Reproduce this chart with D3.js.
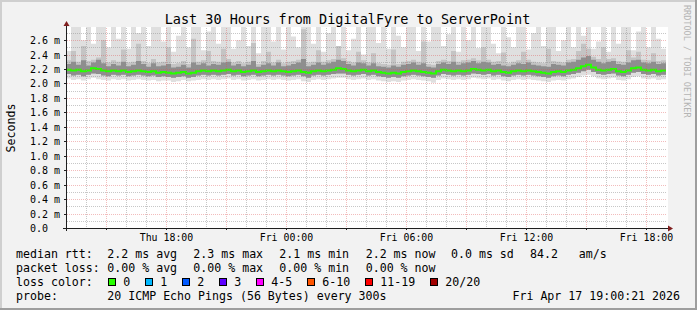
<!DOCTYPE html>
<html>
<head>
<meta charset="utf-8">
<script src="https://cdn.jsdelivr.net/npm/d3@7"></script>
<style>
body { margin: 0; background: #f2f2f2; }
svg { display: block; }
text { font-family: "DejaVu Sans Mono", monospace; fill: #000; white-space: pre; }
</style>
</head>
<body>
<svg id="chart" width="697" height="310"></svg>
<script>
// time span of the graph, one sample every 15 minutes
const startTime = new Date(2026, 3, 16, 13, 0);
const endTime = new Date(2026, 3, 17, 19, 0);
const stepMinutes = 15;

// median rtt (ms)
const median = [
  2.19, 2.18, 2.19, 2.17, 2.18, 2.21, 2.20, 2.18, 2.17, 2.18,
  2.17, 2.18, 2.16, 2.17, 2.18, 2.17, 2.16, 2.17, 2.15, 2.16,
  2.15, 2.14, 2.15, 2.16, 2.14, 2.15, 2.17, 2.18, 2.17, 2.18,
  2.17, 2.18, 2.19, 2.17, 2.18, 2.16, 2.17, 2.18, 2.16, 2.17,
  2.18, 2.17, 2.18, 2.17, 2.16, 2.17, 2.18, 2.16, 2.15, 2.17,
  2.18, 2.17, 2.18, 2.19, 2.21, 2.20, 2.18, 2.17, 2.18, 2.19,
  2.17, 2.18, 2.16, 2.15, 2.14, 2.15, 2.14, 2.16, 2.17, 2.18,
  2.17, 2.16, 2.15, 2.14, 2.17, 2.19, 2.18, 2.17, 2.18, 2.17,
  2.18, 2.20, 2.19, 2.18, 2.19, 2.17, 2.18, 2.16, 2.15, 2.17,
  2.18, 2.17, 2.18, 2.17, 2.16, 2.15, 2.14, 2.16, 2.17, 2.16,
  2.18, 2.19, 2.21, 2.24, 2.26, 2.22, 2.19, 2.18, 2.19, 2.20,
  2.17, 2.16, 2.18, 2.21, 2.22, 2.19, 2.18, 2.19, 2.17, 2.18
];

// smoke: fastest ping (ms)
const pingMin = [
  2.07, 2.05, 2.06, 2.04, 2.06, 2.08, 2.06, 2.05, 2.04, 2.06,
  2.05, 2.06, 2.04, 2.05, 2.06, 2.05, 2.04, 2.05, 2.03, 2.04,
  2.04, 2.02, 2.03, 2.05, 2.03, 2.04, 2.05, 2.06, 2.05, 2.06,
  2.05, 2.06, 2.07, 2.05, 2.06, 2.04, 2.05, 2.06, 2.04, 2.05,
  2.06, 2.05, 2.06, 2.05, 2.04, 2.05, 2.06, 2.03, 2.02, 2.05,
  2.06, 2.05, 2.06, 2.07, 2.08, 2.08, 2.06, 2.05, 2.06, 2.07,
  2.05, 2.06, 2.04, 2.03, 2.02, 2.03, 2.02, 2.04, 2.05, 2.06,
  2.05, 2.04, 2.03, 2.01, 2.05, 2.07, 2.06, 2.05, 2.06, 2.05,
  2.06, 2.08, 2.07, 2.06, 2.07, 2.05, 2.06, 2.04, 2.03, 2.05,
  2.06, 2.05, 2.06, 2.05, 2.04, 2.03, 2.02, 2.04, 2.05, 2.04,
  2.06, 2.07, 2.09, 2.11, 2.12, 2.10, 2.07, 2.06, 2.07, 2.08,
  2.05, 2.04, 2.06, 2.09, 2.10, 2.07, 2.06, 2.07, 2.05, 2.06
];

// smoke: lower edge of the dense core (ms)
const pingLow = [
  2.13, 2.11, 2.12, 2.10, 2.12, 2.14, 2.13, 2.11, 2.10, 2.12,
  2.11, 2.12, 2.10, 2.11, 2.12, 2.11, 2.10, 2.11, 2.09, 2.10,
  2.09, 2.08, 2.09, 2.10, 2.08, 2.09, 2.11, 2.12, 2.11, 2.12,
  2.11, 2.12, 2.13, 2.11, 2.12, 2.10, 2.11, 2.12, 2.10, 2.11,
  2.12, 2.11, 2.12, 2.11, 2.10, 2.11, 2.12, 2.10, 2.08, 2.11,
  2.12, 2.11, 2.12, 2.13, 2.14, 2.14, 2.12, 2.11, 2.12, 2.13,
  2.11, 2.12, 2.10, 2.09, 2.08, 2.09, 2.08, 2.10, 2.11, 2.12,
  2.11, 2.10, 2.09, 2.08, 2.11, 2.13, 2.12, 2.11, 2.12, 2.11,
  2.12, 2.14, 2.13, 2.12, 2.13, 2.11, 2.12, 2.10, 2.09, 2.11,
  2.12, 2.11, 2.12, 2.11, 2.10, 2.09, 2.08, 2.10, 2.11, 2.10,
  2.12, 2.13, 2.15, 2.17, 2.19, 2.16, 2.13, 2.12, 2.13, 2.14,
  2.11, 2.10, 2.12, 2.15, 2.16, 2.13, 2.12, 2.13, 2.11, 2.12
];

// smoke: upper edge of the dense core (ms)
const pingHigh = [
  2.27, 2.30, 2.26, 2.32, 2.25, 2.29, 2.33, 2.28, 2.24, 2.27,
  2.25, 2.30, 2.24, 2.26, 2.31, 2.27, 2.23, 2.28, 2.24, 2.25,
  2.27, 2.22, 2.23, 2.26, 2.22, 2.29, 2.26, 2.28, 2.25, 2.27,
  2.26, 2.29, 2.30, 2.25, 2.27, 2.24, 2.26, 2.31, 2.23, 2.26,
  2.28, 2.25, 2.29, 2.24, 2.25, 2.27, 2.29, 2.34, 2.24, 2.26,
  2.29, 2.26, 2.28, 2.30, 2.33, 2.31, 2.27, 2.25, 2.29, 2.28,
  2.25, 2.28, 2.24, 2.23, 2.22, 2.25, 2.23, 2.26, 2.27, 2.29,
  2.26, 2.28, 2.23, 2.22, 2.27, 2.29, 2.27, 2.30, 2.26, 2.28,
  2.29, 2.31, 2.28, 2.30, 2.29, 2.26, 2.27, 2.25, 2.24, 2.26,
  2.28, 2.27, 2.29, 2.26, 2.25, 2.24, 2.23, 2.27, 2.26, 2.25,
  2.29, 2.30, 2.33, 2.36, 2.38, 2.33, 2.30, 2.28, 2.30, 2.31,
  2.27, 2.26, 2.29, 2.32, 2.33, 2.29, 2.28, 2.30, 2.27, 2.28
];

// smoke: upper edge of the middle pings (ms)
const pingUpper = [
  2.32, 2.45, 2.30, 2.52, 2.31, 2.33, 2.36, 2.60, 2.29, 2.32,
  2.30, 2.47, 2.29, 2.30, 2.55, 2.31, 2.28, 2.34, 2.29, 2.30,
  2.50, 2.27, 2.28, 2.31, 2.27, 2.62, 2.30, 2.32, 2.45, 2.31,
  2.30, 2.48, 2.34, 2.29, 2.31, 2.28, 2.30, 2.56, 2.27, 2.31,
  2.44, 2.29, 2.33, 2.28, 2.30, 2.31, 2.33, 2.75, 2.29, 2.30,
  2.46, 2.30, 2.32, 2.34, 2.52, 2.35, 2.31, 2.29, 2.44, 2.32,
  2.29, 2.42, 2.28, 2.27, 2.26, 2.47, 2.27, 2.30, 2.31, 2.33,
  2.30, 2.58, 2.27, 2.26, 2.31, 2.33, 2.31, 2.45, 2.30, 2.32,
  2.33, 2.35, 2.32, 2.50, 2.33, 2.30, 2.31, 2.43, 2.28, 2.30,
  2.32, 2.44, 2.33, 2.30, 2.29, 2.28, 2.48, 2.31, 2.30, 2.29,
  2.33, 2.34, 2.45, 2.55, 2.48, 2.37, 2.34, 2.50, 2.34, 2.35,
  2.31, 2.30, 2.46, 2.36, 2.44, 2.33, 2.32, 2.42, 2.31, 2.32
];

// smoke: slowest ping (ms), tall ones run off the top of the graph
const pingMax = [
  2.45, 2.80, 2.80, 2.60, 2.80, 2.55, 2.80, 2.80, 2.50, 2.80,
  2.62, 2.80, 2.48, 2.80, 2.70, 2.80, 2.52, 2.80, 2.80, 2.58,
  2.80, 2.44, 2.66, 2.80, 2.50, 2.80, 2.80, 2.46, 2.72, 2.80,
  2.55, 2.80, 2.80, 2.48, 2.60, 2.80, 2.52, 2.80, 2.42, 2.80,
  2.80, 2.58, 2.80, 2.47, 2.80, 2.65, 2.50, 2.80, 2.80, 2.55,
  2.80, 2.44, 2.70, 2.80, 2.52, 2.80, 2.46, 2.62, 2.80, 2.40,
  2.80, 2.80, 2.56, 2.80, 2.48, 2.80, 2.66, 2.50, 2.80, 2.80,
  2.45, 2.80, 2.58, 2.80, 2.80, 2.52, 2.68, 2.80, 2.44, 2.80,
  2.60, 2.80, 2.49, 2.80, 2.80, 2.55, 2.42, 2.80, 2.64, 2.50,
  2.80, 2.80, 2.47, 2.70, 2.80, 2.52, 2.80, 2.80, 2.45, 2.60,
  2.80, 2.50, 2.80, 2.66, 2.80, 2.48, 2.58, 2.80, 2.44, 2.80,
  2.55, 2.80, 2.80, 2.46, 2.72, 2.80, 2.50, 2.80, 2.62, 2.48
];

const yTicks = [0, 0.2, 0.4, 0.6, 0.8, 1.0, 1.2, 1.4, 1.6, 1.8, 2.0, 2.2, 2.4, 2.6];

const rttStats = ["2.2 ms avg", "2.3 ms max", "2.1 ms min", "2.2 ms now", "0.0 ms sd", "84.2   am/s"];
const lossStats = ["0.00 % avg", "0.00 % max", "0.00 % min", "0.00 % now"];
const lossLabels = ["0", "1", "2", "3", "4-5", "6-10", "11-19", "20/20"];
const lossColors = ["#26ff00", "#00b8ff", "#0059ff", "#5e00ff", "#ff00ff", "#ff5500", "#ff0000", "#a10000"];
const probeText = "20 ICMP Echo Pings (56 Bytes) every 300s";
const stampText = "Fri Apr 17 19:00:21 2026";
const title = "Last 30 Hours from DigitalFyre to ServerPoint";

const W = 697, H = 310;
const plotL = 66, plotR = 666, plotT = 28, plotB = 228;

const svg = d3.select('#chart');

// background + 3d shade
svg.append('rect').attr('width', W).attr('height', H).attr('fill', '#f2f2f2');
svg.append('path').attr('d', `M0,0H${W}V2H2V${H}H0Z`).attr('fill', '#cfcfcf');
svg.append('path').attr('d', `M${W},${H}H0V${H - 2}H${W - 2}V0H${W}Z`).attr('fill', '#9e9e9e');

// canvas
svg.append('rect').attr('x', plotL + 1).attr('y', plotT - 1)
    .attr('width', plotR - plotL + 1).attr('height', plotB - plotT + 1).attr('fill', '#fff');

const x = d3.scaleTime().domain([startTime, endTime]).range([plotL, plotR]);
const y = d3.scaleLinear().domain([0, 2.768]).range([plotB, plotT]);

const step = stepMinutes * 60 * 1000;
const samples = median.map((m, i) => ({
    t: new Date(+startTime + i * step),
    med: m, min: pingMin[i], low: pingLow[i], high: pingHigh[i], upper: pingUpper[i], max: pingMax[i]
}));
samples.push(Object.assign({}, samples[samples.length - 1], { t: endTime }));

svg.append('clipPath').attr('id', 'plotclip')
    .append('rect').attr('x', plotL + 1).attr('y', plotT - 1).attr('width', plotR - plotL).attr('height', plotB - plotT + 1);

const plot = svg.append('g').attr('clip-path', 'url(#plotclip)');

const band = (lo, hi) => d3.area().curve(d3.curveStepAfter)
    .x(d => x(d.t)).y0(d => y(d[lo])).y1(d => y(d[hi]));

plot.append('path').datum(samples).attr('d', band('min', 'max')).attr('fill', '#dfdfdf');
plot.append('path').datum(samples).attr('d', band('low', 'upper')).attr('fill', '#c4c4c4');
plot.append('path').datum(samples).attr('d', band('low', 'high')).attr('fill', '#8e8e8e');

// grid (drawn over the smoke, as rrdtool does)
const py = v => Math.round(y(v)) + 0.5;
const px = t => Math.round(x(t)) + 0.5;
const grid = svg.append('g');
const minorCol = 'rgba(143,143,143,0.5)';
const majorCol = 'rgba(222,79,79,0.38)';

const minorY = d3.range(1, 28, 2).map(k => k / 10);
grid.selectAll('.gy').data(minorY).enter().append('line')
    .attr('x1', plotL + 1).attr('x2', plotR + 1).attr('y1', d => py(d)).attr('y2', d => py(d))
    .attr('stroke', minorCol).attr('stroke-dasharray', '1,1');

const hours = d3.timeHour.range(startTime, endTime).filter(t => t > startTime);
grid.selectAll('.gx').data(hours.filter(t => t.getHours() % 3 !== 0)).enter().append('line')
    .attr('x1', d => px(d)).attr('x2', d => px(d)).attr('y1', plotT).attr('y2', plotB)
    .attr('stroke', minorCol).attr('stroke-dasharray', '1,1');

grid.selectAll('.my').data(yTicks.filter(v => v > 0)).enter().append('line')
    .attr('x1', plotL + 1).attr('x2', plotR + 1).attr('y1', d => py(d)).attr('y2', d => py(d))
    .attr('stroke', majorCol).attr('stroke-dasharray', '1,1');

const majorX = hours.filter(t => t.getHours() % 3 === 0);
grid.selectAll('.mx').data(majorX).enter().append('line')
    .attr('x1', d => px(d)).attr('x2', d => px(d)).attr('y1', plotT).attr('y2', plotB)
    .attr('stroke', majorCol).attr('stroke-dasharray', '1,1');

// median line
plot.append('path').datum(samples)
    .attr('d', d3.line().curve(d3.curveStepAfter).x(d => x(d.t)).y(d => y(d.med)))
    .attr('fill', 'none').attr('stroke', lossColors[0]).attr('stroke-width', 2);

// axes
const axis = svg.append('g');
axis.append('line').attr('x1', plotL + 0.5).attr('x2', plotL + 0.5).attr('y1', plotB + 3).attr('y2', 24)
    .attr('stroke', '#1f1f1f');
axis.append('line').attr('x1', plotL - 3).attr('x2', plotR + 4).attr('y1', plotB + 0.5).attr('y2', plotB + 0.5)
    .attr('stroke', '#1f1f1f');
axis.append('path').attr('d', `M${plotL + 0.5},21L${plotL + 3.5},26L${plotL - 2.5},26Z`).attr('fill', '#801f1f');
axis.append('path').attr('d', `M${plotR + 7},${plotB + 0.5}L${plotR + 2},${plotB - 2.5}L${plotR + 2},${plotB + 3.5}Z`)
    .attr('fill', '#801f1f');

axis.selectAll('.ty').data(yTicks).enter().append('line')
    .attr('x1', plotL - 2).attr('x2', plotL).attr('y1', d => py(d)).attr('y2', d => py(d)).attr('stroke', '#1f1f1f');
axis.selectAll('.tx').data(majorX).enter().append('line')
    .attr('x1', d => px(d)).attr('x2', d => px(d)).attr('y1', plotB).attr('y2', plotB + 2).attr('stroke', '#1f1f1f');

axis.selectAll('.ly').data(yTicks).enter().append('text')
    .attr('x', 30).attr('y', d => py(d) + 3.5)
    .style('font-size', '10px')
    .text(d => d === 0 ? '0.0' : d3.format('.1f')(d) + ' m');

const fmt = d3.timeFormat('%a %H:%M');
axis.selectAll('.lx').data(majorX.filter(t => t.getHours() % 6 === 0)).enter().append('text')
    .attr('x', d => px(d)).attr('y', 241).attr('text-anchor', 'middle')
    .style('font-size', '9.9px')
    .text(d => fmt(d));

// title, unit, watermark
svg.append('text').attr('x', 347.5).attr('y', 24).attr('text-anchor', 'middle')
    .style('font-size', '13.5px').text(title);
svg.append('text').attr('transform', 'translate(15,128) rotate(-90)').attr('text-anchor', 'middle')
    .style('font-size', '11.6px').text('Seconds');
svg.append('text').attr('transform', 'translate(684,5) rotate(90)')
    .style('font-size', '8.5px').style('fill', '#b4b4b4').text('RRDTOOL / TOBI OETIKER');

// legend
const legend = svg.append('g').style('font-size', '11.6px');
const statX = [107.3, 193.3, 279.3, 365.7, 451, 530];
legend.append('text').attr('x', 16).attr('y', 258).text('median rtt:');
legend.selectAll('.rs').data(rttStats).enter().append('text')
    .attr('x', (d, i) => statX[i]).attr('y', 258).attr('xml:space', 'preserve').text(d => d);

legend.append('text').attr('x', 16).attr('y', 272).text('packet loss:');
legend.selectAll('.ls').data(lossStats).enter().append('text')
    .attr('x', (d, i) => statX[i]).attr('y', 272).attr('xml:space', 'preserve').text(d => d);

legend.append('text').attr('x', 16).attr('y', 286).text('loss color:');
const boxX = [108.5, 145.5, 182.5, 219.5, 256.5, 307.5, 365.5, 430.5];
legend.selectAll('.lb').data(lossColors).enter().append('rect')
    .attr('x', (d, i) => boxX[i]).attr('y', 278.5).attr('width', 7).attr('height', 7)
    .attr('fill', d => d).attr('stroke', '#000');
legend.selectAll('.ll').data(lossLabels).enter().append('text')
    .attr('x', (d, i) => boxX[i] + 14.8).attr('y', 286).text(d => d);

legend.append('text').attr('x', 16).attr('y', 300).text('probe:');
legend.append('text').attr('x', 107.3).attr('y', 300).text(probeText);
legend.append('text').attr('x', 680).attr('y', 300).attr('text-anchor', 'end').text(stampText);
</script>
</body>
</html>
